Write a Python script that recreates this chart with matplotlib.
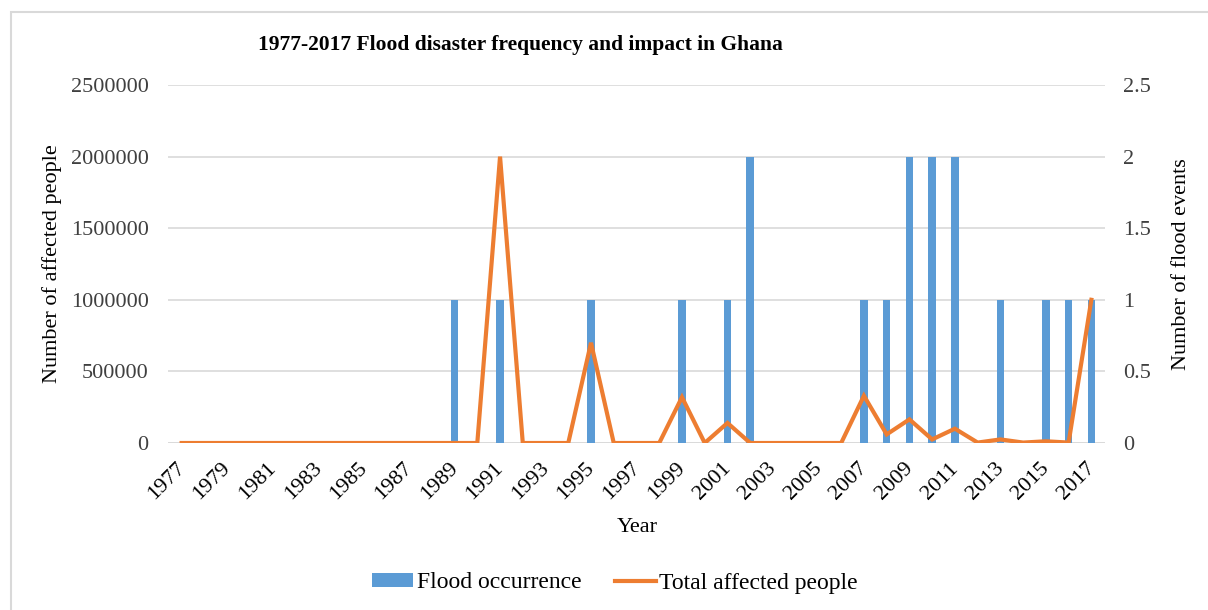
import matplotlib
matplotlib.use("Agg")
import matplotlib.pyplot as plt
import matplotlib.transforms as mtransforms
from matplotlib.patches import Rectangle, Patch
from matplotlib.lines import Line2D

years = [1977, 1978, 1979, 1980, 1981, 1982, 1983, 1984, 1985, 1986,
         1987, 1988, 1989, 1990, 1991, 1992, 1993, 1994, 1995, 1996,
         1997, 1998, 1999, 2000, 2001, 2002, 2003, 2004, 2005, 2006,
         2007, 2008, 2009, 2010, 2011, 2012, 2013, 2014, 2015, 2016, 2017]

flood_occurrence = [0, 0, 0, 0, 0, 0, 0, 0, 0, 0,
                    0, 0, 1, 0, 1, 0, 0, 0, 1, 0,
                    0, 0, 1, 0, 1, 2, 0, 0, 0, 0,
                    1, 1, 2, 2, 2, 0, 1, 0, 1, 1, 1]

total_affected = [0, 0, 0, 0, 0, 0, 0, 0, 0, 0,
                  0, 0, 0, 0, 2000000, 0, 0, 0, 700000, 0,
                  0, 0, 320000, 0, 140000, 0, 0, 0, 0, 0,
                  330000, 60000, 165000, 25000, 100000, 3000, 25000, 3000, 12000, 3000, 1000000]

left_ticks = [0, 500000, 1000000, 1500000, 2000000, 2500000]
right_ticks = [0, 0.5, 1, 1.5, 2, 2.5]
right_tick_labels = ["0", "0.5", "1", "1.5", "2", "2.5"]

BLUE = "#5B9BD5"
ORANGE = "#ED7D31"
GRID = "#D9D9D9"
SERIF = ["Liberation Serif", "DejaVu Serif"]
FS = 16

plt.rcParams["font.family"] = SERIF

fig = plt.figure(figsize=(12.08, 6.10), dpi=100)
fig.patch.set_facecolor("white")

# outer chart frame
fig.add_artist(Rectangle((11 / 1208, -0.2), 1.2, (610 - 12) / 610 + 0.2,
                         transform=fig.transFigure, fill=False,
                         edgecolor=GRID, linewidth=1.5))

left, right = 168 / 1208, 1105 / 1208
bottom, top = (610 - 443) / 610, (610 - 85) / 610
ax_bar = fig.add_axes([left, bottom, right - left, top - bottom])
ax_line = ax_bar.twinx()

x = list(range(len(years)))

# bars: flood occurrence on the secondary (right) scale
ax_bar.bar(x, flood_occurrence, width=0.33, color=BLUE, zorder=2)
ax_bar.set_ylim(0, 2.5)
ax_bar.set_yticks(right_ticks)
ax_bar.set_yticklabels(right_tick_labels)
ax_bar.yaxis.tick_right()
ax_bar.yaxis.set_label_position("right")
ax_bar.grid(axis="y", color=GRID, linewidth=1.2, zorder=0)
ax_bar.set_axisbelow(True)

# line: total affected people on the primary (left) scale
ax_line.plot(x, total_affected, color=ORANGE, linewidth=3.0,
             solid_joinstyle="miter", zorder=3)
ax_line.set_ylim(0, 2500000)
ax_line.set_yticks(left_ticks)
ax_line.set_yticklabels([str(v) for v in left_ticks])
ax_line.yaxis.tick_left()
ax_line.yaxis.set_label_position("left")

for a in (ax_bar, ax_line):
    a.set_xlim(-0.6, len(years) - 0.4)
    for s in a.spines.values():
        s.set_visible(False)
    a.tick_params(axis="both", length=0, labelsize=FS, colors="#404040")

ax_bar.tick_params(axis="y", pad=13)
ax_line.tick_params(axis="y", pad=14)

ax_bar.set_xticks(x[::2])
ax_bar.set_xticklabels([str(y) for y in years[::2]], rotation=45,
                       ha="right", va="top", rotation_mode="anchor",
                       color="black", fontsize=FS)
ax_bar.tick_params(axis="x", pad=8)
shift = mtransforms.ScaledTranslation(-0.06, -0.05, fig.dpi_scale_trans)
for lbl in ax_bar.get_xticklabels():
    lbl.set_transform(lbl.get_transform() + shift)

ax_bar.axhline(0, color=GRID, linewidth=1.2, zorder=1)

ax_line.set_ylabel("Number of affected people", fontsize=FS, labelpad=6)
ax_bar.set_ylabel("Number of flood events", fontsize=FS, labelpad=15)

fig.text(637 / 1208, (610 - 527) / 610, "Year", ha="center", va="center",
         fontsize=FS)
fig.text(520 / 1208, (610 - 45) / 610,
         "1977-2017 Flood disaster frequency and impact in Ghana",
         ha="center", va="center", fontsize=15.5, fontweight="bold")

handles = [Patch(facecolor=BLUE, edgecolor="none"),
           Line2D([0], [0], color=ORANGE, linewidth=3.0)]
fig.legend(handles, ["Flood occurrence", "Total affected people"],
           loc="center", bbox_to_anchor=(615 / 1208, (610 - 583) / 610),
           ncol=2, frameon=False, fontsize=17, handlelength=1.75,
           handleheight=0.5, handletextpad=0.15, columnspacing=1.4)

fig.savefig("out.png", dpi=100, facecolor="white")
